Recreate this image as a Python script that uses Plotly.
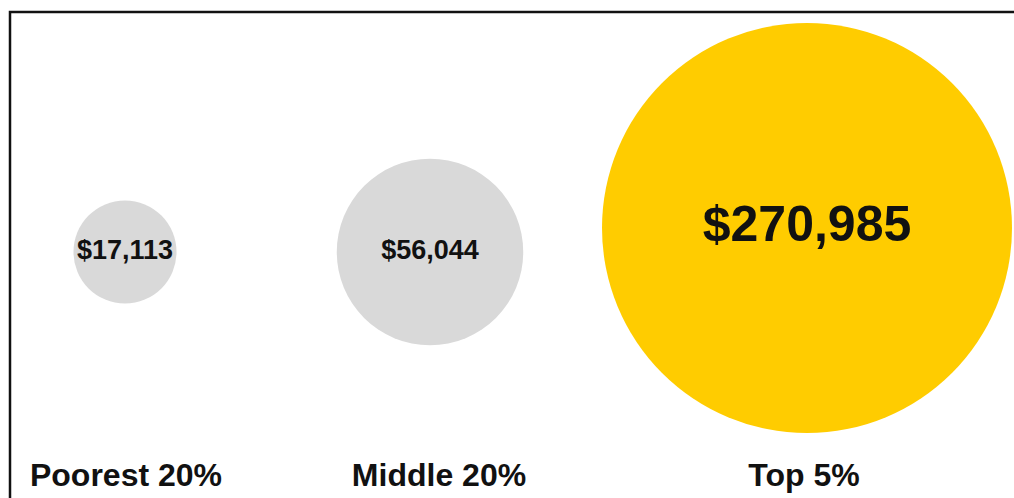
import plotly.graph_objects as go

# Household income by group
groups = ["Poorest 20%", "Middle 20%", "Top 5%"]
incomes = [17113, 56044, 270985]

# Layout constants (pixel space of the 1014x498 canvas)
W, H = 1014, 498
centre_x = [125, 430, 807]
centre_y = [252, 252, 228]
label_x = [126, 439, 804]
label_y = 478
max_diameter = 410
fill_colours = ["#d9d9d9", "#d9d9d9", "#ffcc00"]
value_font_sizes = [27, 27, 50]
FONT = "Liberation Sans, Arial, Helvetica, sans-serif"

# Bubble area proportional to income (Plotly's area sizing convention)
sizeref = 2.0 * max(incomes) / max_diameter ** 2

fig = go.Figure()

fig.add_trace(go.Scatter(
    x=centre_x,
    y=centre_y,
    mode="markers+text",
    marker=dict(
        size=incomes,
        sizemode="area",
        sizeref=sizeref,
        color=fill_colours,
        line=dict(width=0),
        opacity=1,
    ),
    text=[f"<b>${v:,}</b>" for v in incomes],
    textposition="middle center",
    textfont=dict(family=FONT, size=value_font_sizes, color="#111111"),
    hoverinfo="skip",
    showlegend=False,
))

fig.add_trace(go.Scatter(
    x=label_x,
    y=[label_y] * len(groups),
    mode="text",
    text=[f"<b>{g}</b>" for g in groups],
    textposition="middle center",
    textfont=dict(family=FONT, size=32, color="#111111"),
    hoverinfo="skip",
    showlegend=False,
))

# Frame around the panel
fig.add_shape(
    type="rect", xref="x", yref="y",
    x0=10, y0=12, x1=W + 20, y1=H + 20,
    line=dict(color="#111111", width=2.5),
    fillcolor="rgba(0,0,0,0)",
    layer="above",
)

fig.update_xaxes(range=[0, W], visible=False, fixedrange=True)
fig.update_yaxes(range=[H, 0], visible=False, fixedrange=True)

fig.update_layout(
    width=W, height=H,
    margin=dict(l=0, r=0, t=0, b=0),
    paper_bgcolor="white",
    plot_bgcolor="white",
    showlegend=False,
)

fig.write_html("out.html", config={"displayModeBar": False})
